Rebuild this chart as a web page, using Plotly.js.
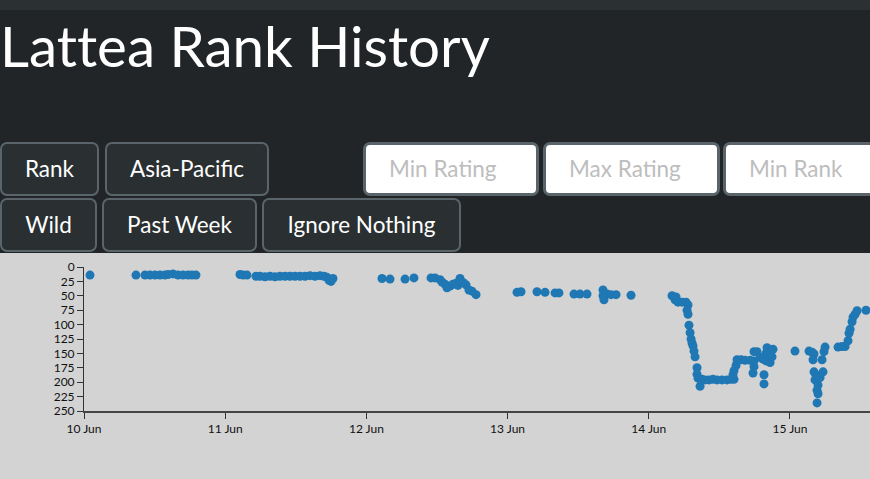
<!DOCTYPE html>
<html>
<head>
<meta charset="utf-8">
<script src="https://cdn.plot.ly/plotly-3.0.1.min.js"></script>
<style>
  html, body { margin: 0; padding: 0; width: 870px; height: 479px; overflow: hidden; background: #212527; font-family: Lato, "Open Sans", sans-serif; }
  #topbar { position: absolute; left: 0; top: 0; width: 870px; height: 10px; background: #2b3033; }
  h1 { position: absolute; left: 0; top: 10px; margin: 0; font-family: Lato, sans-serif; font-weight: 400; font-size: 56.5px; line-height: 70px; color: #ffffff; white-space: nowrap; font-variant-ligatures: none; font-feature-settings: "liga" 0; }
  .btn { position: absolute; box-sizing: border-box; background: #2a3032; border: 2px solid #59656a; border-radius: 7px; color: #ffffff; font-family: Lato, sans-serif; font-size: 22.5px; display: flex; align-items: center; justify-content: center; white-space: nowrap; padding-bottom: 2px; }
  .inp { position: absolute; box-sizing: border-box; background: #ffffff; border: 3px solid #59656a; border-radius: 7px; color: #bdbdbd; font-family: Lato, sans-serif; font-size: 22.5px; display: flex; align-items: center; padding-left: 23px; padding-bottom: 2px; white-space: nowrap; }
  #chart { position: absolute; left: 0; top: 253px; width: 870px; height: 226px; background: #d3d3d3; }
</style>
</head>
<body>
<div id="topbar"></div>
<h1>Lattea Rank History</h1>

<div class="btn" style="left:0px;top:142px;width:99px;height:54px;">Rank</div>
<div class="btn" style="left:105px;top:142px;width:164px;height:54px;">Asia-Pacific</div>
<div class="inp" style="left:363px;top:142px;width:176px;height:54px;">Min Rating</div>
<div class="inp" style="left:543px;top:142px;width:177px;height:54px;">Max Rating</div>
<div class="inp" style="left:723px;top:142px;width:170px;height:54px;">Min Rank</div>

<div class="btn" style="left:0px;top:198px;width:97px;height:54px;">Wild</div>
<div class="btn" style="left:102px;top:198px;width:155px;height:54px;">Past Week</div>
<div class="btn" style="left:262px;top:198px;width:199px;height:54px;">Ignore Nothing</div>

<div id="chart"></div>

<script>
// ---- data ----
const times = [
  "2023-06-10 01:01","2023-06-10 08:50","2023-06-10 10:22","2023-06-10 11:13","2023-06-10 12:04",
  "2023-06-10 12:55","2023-06-10 13:46","2023-06-10 14:17","2023-06-10 15:08","2023-06-10 15:59",
  "2023-06-10 16:50","2023-06-10 17:41","2023-06-10 18:21","2023-06-10 19:02",
  "2023-06-11 02:31","2023-06-11 03:02","2023-06-11 03:42","2023-06-11 05:14","2023-06-11 05:55",
  "2023-06-11 06:46","2023-06-11 07:37","2023-06-11 08:28","2023-06-11 09:19","2023-06-11 10:10",
  "2023-06-11 11:01","2023-06-11 11:52","2023-06-11 12:43","2023-06-11 13:34","2023-06-11 14:25",
  "2023-06-11 15:16","2023-06-11 16:07","2023-06-11 16:48","2023-06-11 17:18","2023-06-11 17:39",
  "2023-06-11 17:59","2023-06-11 18:19",
  "2023-06-12 02:39","2023-06-12 04:01","2023-06-12 06:34","2023-06-12 08:05","2023-06-12 10:59",
  "2023-06-12 11:40","2023-06-12 12:31","2023-06-12 12:51","2023-06-12 13:22","2023-06-12 13:42",
  "2023-06-12 14:13","2023-06-12 14:43","2023-06-12 15:14","2023-06-12 15:55","2023-06-12 15:34",
  "2023-06-12 16:25","2023-06-12 16:56","2023-06-12 17:26","2023-06-12 17:57","2023-06-12 18:38",
  "2023-06-13 01:36","2023-06-13 02:17","2023-06-13 05:00","2023-06-13 06:22","2023-06-13 08:04",
  "2023-06-13 08:44","2023-06-13 11:17","2023-06-13 12:19","2023-06-13 13:30","2023-06-13 16:13",
  "2023-06-13 16:13","2023-06-13 16:23","2023-06-13 16:54","2023-06-13 17:35","2023-06-13 18:26",
  "2023-06-13 20:59",
  "2023-06-14 03:57","2023-06-14 04:38","2023-06-14 04:28","2023-06-14 04:58","2023-06-14 05:39",
  "2023-06-14 06:20","2023-06-14 06:40","2023-06-14 06:30","2023-06-14 06:40","2023-06-14 06:50",
  "2023-06-14 07:01","2023-06-14 07:11","2023-06-14 07:21","2023-06-14 07:31","2023-06-14 07:41",
  "2023-06-14 07:52","2023-06-14 08:12","2023-06-14 08:12","2023-06-14 08:22","2023-06-14 08:43",
  "2023-06-14 09:03","2023-06-14 09:34","2023-06-14 10:14","2023-06-14 10:55","2023-06-14 11:36",
  "2023-06-14 12:27","2023-06-14 13:18","2023-06-14 13:59","2023-06-14 14:29","2023-06-14 14:19",
  "2023-06-14 14:29","2023-06-14 14:50","2023-06-14 15:00","2023-06-14 15:41","2023-06-14 16:22",
  "2023-06-14 17:13","2023-06-14 17:53","2023-06-14 17:53","2023-06-14 18:24","2023-06-14 17:53",
  "2023-06-14 17:43","2023-06-14 18:55","2023-06-14 19:25","2023-06-14 19:56","2023-06-14 20:37",
  "2023-06-14 20:06","2023-06-14 20:37","2023-06-14 19:56","2023-06-14 21:07","2023-06-14 20:57",
  "2023-06-14 19:35","2023-06-14 19:35",
  "2023-06-15 00:51","2023-06-15 03:14","2023-06-15 03:45","2023-06-15 04:05","2023-06-15 03:55",
  "2023-06-15 04:05","2023-06-15 04:26","2023-06-15 04:15","2023-06-15 04:46","2023-06-15 04:46",
  "2023-06-15 04:36","2023-06-15 04:46","2023-06-15 04:36","2023-06-15 05:07","2023-06-15 05:37",
  "2023-06-15 05:27","2023-06-15 05:47","2023-06-15 05:58","2023-06-15 08:10","2023-06-15 08:51",
  "2023-06-15 09:22","2023-06-15 09:52","2023-06-15 10:02","2023-06-15 10:13","2023-06-15 10:33",
  "2023-06-15 10:43","2023-06-15 11:04","2023-06-15 11:24","2023-06-15 12:55"
];
const ranks = [
  14,14,14,14,14,14,14,13,12,14,14,14,14,14,
  13,14,14,16,16,17,16,17,16,16,16,16,16,16,15,16,15,16,18,23,25,20,
  20,21,21,19,19,19,22,26,30,36,33,30,28,20,32,27,31,40,42,48,
  44,43,43,44,45,45,47,47,47,40,50,57,47,48,48,49,
  50,52,57,61,61,61,66,75,82,101,114,125,132,137,146,156,175,186,193,207,
  195,196,196,195,196,196,196,195,195,187,180,171,161,161,162,162,163,147,147,173,
  184,157,160,163,166,140,146,150,143,156,187,203,
  146,146,148,151,161,182,188,196,193,205,214,220,236,192,182,161,147,139,139,138,
  138,128,115,108,95,87,82,76,75
];
const tickDays = ["2023-06-10","2023-06-11","2023-06-12","2023-06-13","2023-06-14","2023-06-15"];
const tickLabels = ["10 Jun","11 Jun","12 Jun","13 Jun","14 Jun","15 Jun"];
const rankTicks = [0,25,50,75,100,125,150,175,200,225,250];

const trace = {
  x: times, y: ranks, type: "scatter", mode: "markers",
  marker: { size: 9, color: "#1f77b4", line: { width: 0 } },
  hoverinfo: "x+y"
};

const layout = {
  width: 870, height: 226,
  margin: { l: 84, r: 0, t: 14, b: 68 },
  paper_bgcolor: "#d3d3d3", plot_bgcolor: "#d3d3d3",
  showlegend: false,
  font: { family: "Lato, sans-serif", size: 12, color: "#111" },
  xaxis: {
    type: "date",
    range: ["2023-06-10 00:00", "2023-06-15 13:36"],
    tickvals: tickDays, ticktext: tickLabels,
    ticks: "outside", ticklen: 6, tickwidth: 1, tickcolor: "#333",
    showline: true, linecolor: "#444", linewidth: 2,
    showgrid: false, zeroline: false,
    tickfont: { family: "Lato, sans-serif", size: 12, color: "#111" }
  },
  yaxis: {
    range: [250, 0],
    tickvals: rankTicks,
    ticks: "outside", ticklen: 6, tickwidth: 1, tickcolor: "#333",
    showline: true, linecolor: "#333", linewidth: 1,
    showgrid: false, zeroline: false,
    tickfont: { family: "Lato, sans-serif", size: 12, color: "#111" }
  }
};

Plotly.newPlot("chart", [trace], layout, { displayModeBar: false, staticPlot: true });
</script>
</body>
</html>
